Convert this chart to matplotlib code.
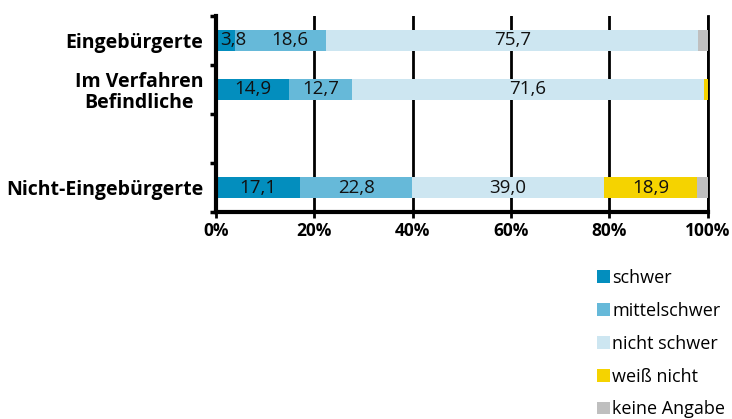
import matplotlib
matplotlib.use("Agg")
import matplotlib.pyplot as plt
from matplotlib.patches import Patch
import numpy as np

plt.rcParams['font.family'] = ['Open Sans', 'DejaVu Sans']

groups = ["Eingebürgerte", "Im Verfahren\nBefindliche", "", "Nicht-Eingebürgerte"]
series = ["schwer", "mittelschwer", "nicht schwer", "weiß nicht", "keine Angabe"]
schwer = [3.8, 14.9, 0, 17.1]
mittelschwer = [18.6, 12.7, 0, 22.8]
nicht_schwer = [75.7, 71.6, 0, 39.0]
weiss_nicht = [0, 0.8, 0, 18.9]
keine_angabe = [1.9, 0, 0, 2.2]
colors = ["#038ebe", "#66b9d9", "#cde6f1", "#f5d300", "#bfbfbf"]
labeled = [True, True, True, True, False]

# label nudges (percent points) for the narrow segments of the first bar
nudge = {(0, 0): 1.6, (0, 1): 1.9}

vals = [schwer, mittelschwer, nicht_schwer, weiss_nicht, keine_angabe]

fig = plt.figure(figsize=(7.32, 4.19), dpi=100)
ax = fig.add_axes([0.295, 0.494, 0.672, 0.468])

ypos = np.arange(len(groups))[::-1]
left = np.zeros(len(groups))
for j, v in enumerate(vals):
    v = np.array(v)
    ax.barh(ypos, v, left=left, height=0.42, color=colors[j], zorder=2)
    if labeled[j]:
        for i in range(len(groups)):
            if v[i] >= 2:
                x = left[i] + v[i] / 2 + nudge.get((i, j), 0)
                ax.text(x, ypos[i], f"{v[i]:.1f}".replace(".", ","),
                        ha="center", va="center", fontsize=13.5, color="#111111", zorder=3)
    left += v

ax.set_xlim(0, 100)
ax.set_ylim(-0.5, 3.5)
ax.set_xticks([0, 20, 40, 60, 80, 100])
ax.set_xticklabels([f"{t}%" for t in [0, 20, 40, 60, 80, 100]], fontweight="bold", fontsize=12.5)
ax.set_yticks(ypos)
ax.set_yticklabels(groups, fontweight="bold", fontsize=14)
for lab in ax.get_yticklabels():
    lab.set_multialignment("center")
    lab.set_linespacing(1.05)
ax.tick_params(axis="y", length=0, pad=9)
ax.set_yticks([-0.5, 0.5, 1.5, 2.5, 3.5], minor=True)
ax.tick_params(axis="y", which="minor", length=4, width=2.5, color="black")
ax.tick_params(axis="x", length=4, width=2, color="black", pad=3)

ax.grid(axis="x", color="black", linewidth=2, zorder=0)
ax.set_axisbelow(True)
# right-most gridline sits on the axes edge; draw it unclipped
ax.axvline(100, color="black", linewidth=2, zorder=1, clip_on=False)
for s in ["top", "right"]:
    ax.spines[s].set_visible(False)
for s in ["left", "bottom"]:
    ax.spines[s].set_linewidth(3)
    ax.spines[s].set_zorder(4)

handles = [Patch(facecolor=c, edgecolor="none") for c in colors]
fig.legend(handles, series, loc="upper left", bbox_to_anchor=(0.806, 0.375),
           frameon=False, fontsize=13, handlelength=0.7, handleheight=0.7,
           handletextpad=0.12, labelspacing=0.82, borderaxespad=0)

fig.savefig("out.png", dpi=100)
